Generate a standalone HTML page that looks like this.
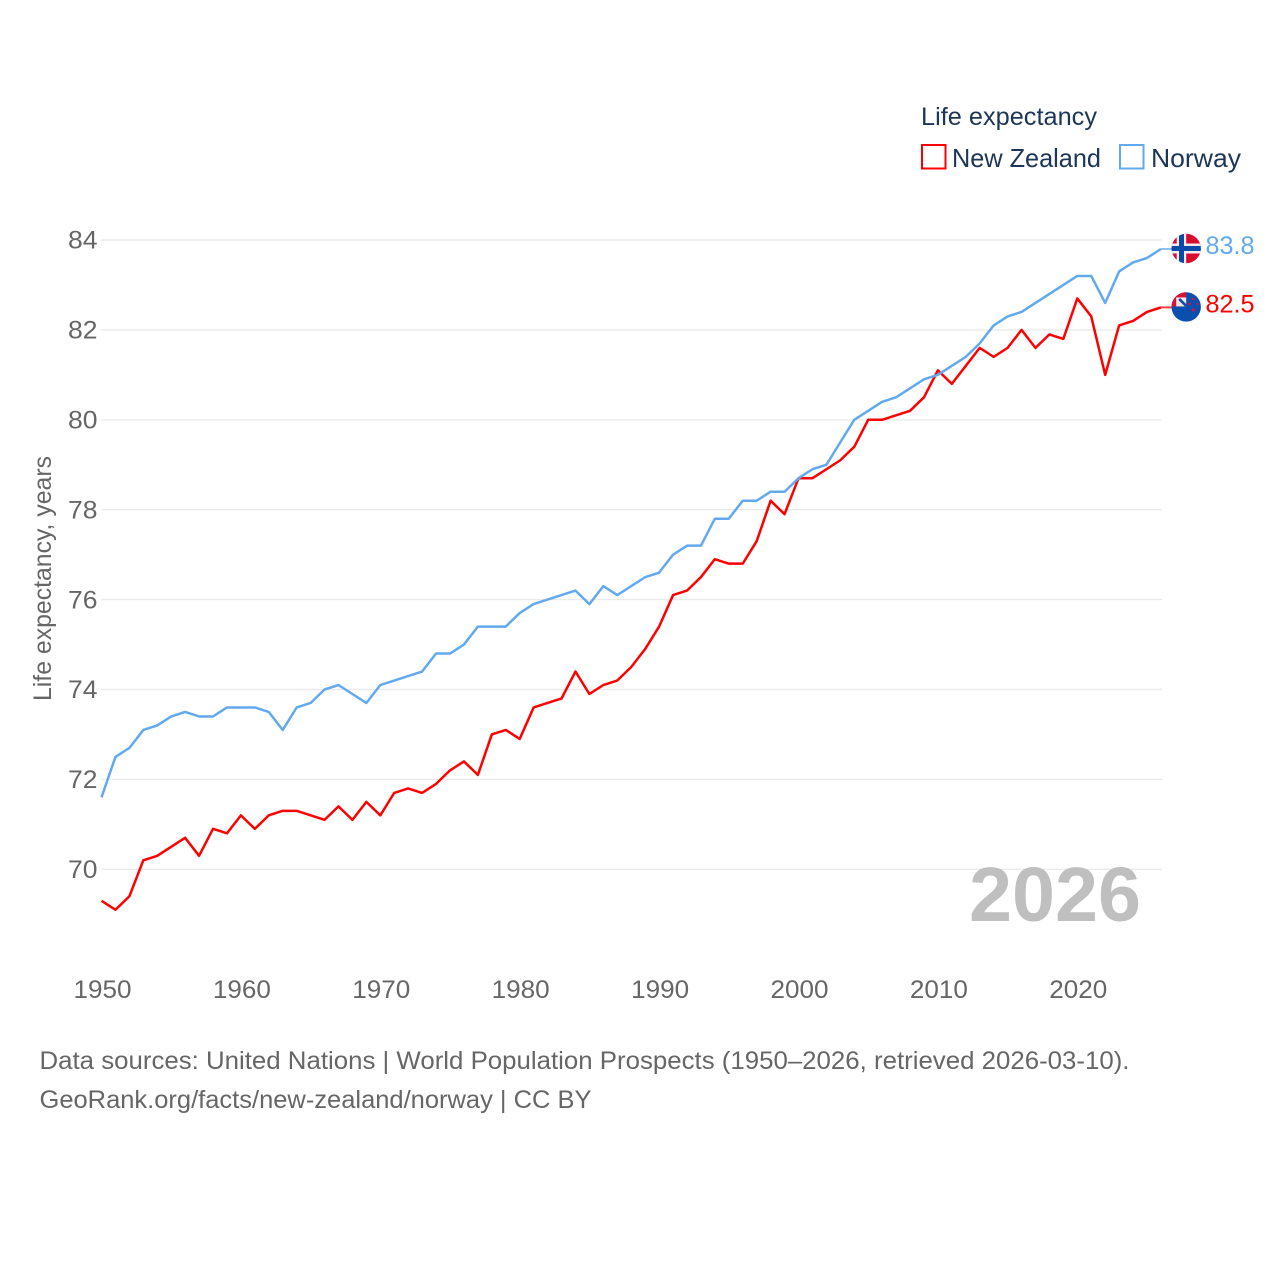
<!DOCTYPE html>
<html lang="en">
<head>
<meta charset="utf-8">
<title>Life expectancy: New Zealand and Norway</title>
<style>
html,body{margin:0;padding:0;background:#fff;width:1280px;height:1280px;overflow:hidden}
svg{display:block}
text{font-family:"Liberation Sans",sans-serif}
</style>
</head>
<body>
<svg id="chart" width="1280" height="1280" viewBox="0 0 1280 1280" xmlns="http://www.w3.org/2000/svg">
  <defs>
    <clipPath id="flag-clip"><circle cx="0" cy="0" r="14.7"></circle></clipPath>
  </defs>
  <rect width="1280" height="1280" fill="#fff"></rect>

  <g>
    <text x="921" y="125" font-size="25" fill="#1d3557" textLength="176" lengthAdjust="spacingAndGlyphs">Life expectancy</text>
    <g>
      <rect x="922" y="145" width="23.5" height="23.5" fill="#fff" stroke="#ff0000" stroke-width="2"></rect>
      <text x="952" y="167" font-size="26" fill="#1d3557" textLength="149" lengthAdjust="spacingAndGlyphs">New Zealand</text>
    </g>
    <g>
      <rect x="1120" y="145" width="23.5" height="23.5" fill="#fff" stroke="#62a9ee" stroke-width="2"></rect>
      <text x="1151" y="167" font-size="26" fill="#1d3557" textLength="90" lengthAdjust="spacingAndGlyphs">Norway</text>
    </g>
  </g>

  <g id="grid"></g>
  <g id="y-ticks"></g>
  <g id="x-ticks"></g>

  <text transform="translate(51,701) rotate(-90)" font-size="25" fill="#666666" textLength="245" lengthAdjust="spacingAndGlyphs">Life expectancy, years</text>

  <text x="969" y="921" font-size="77" font-weight="700" fill="#bfbfbf" textLength="172" lengthAdjust="spacingAndGlyphs">2026</text>

  <g id="series"></g>

  <g id="flag-norway">
    <g clip-path="url(#flag-clip)">
      <rect x="-15" y="-15" width="30" height="30" fill="#d80c2f"></rect>
      <rect x="-9.5" y="-15" width="9.5" height="30" fill="#f3ecec"></rect>
      <rect x="-15" y="-5" width="30" height="10" fill="#f3ecec"></rect>
      <rect x="-7.2" y="-15" width="5" height="30" fill="#0b4aa8"></rect>
      <rect x="-15" y="-2.5" width="30" height="5" fill="#0b4aa8"></rect>
    </g>
  </g>
  <g id="flag-new-zealand">
    <g clip-path="url(#flag-clip)">
      <rect x="-15" y="-15" width="30" height="30" fill="#0b4fae"></rect>
      <rect x="-15" y="-15" width="15" height="14.5" fill="#d8123a"></rect>
      <rect x="-10" y="-9.5" width="10" height="9" fill="#f2e6ea"></rect>
      <path d="M-7 -8 L0 -1" stroke="#0b4fae" stroke-width="2.6" fill="none"></path>
      <circle cx="7" cy="-8" r="1.3" fill="#d8123a"></circle>
      <circle cx="3" cy="-3" r="1.4" fill="#d8123a"></circle>
      <circle cx="11" cy="-3" r="1.2" fill="#d8123a"></circle>
      <circle cx="7" cy="3" r="1.6" fill="#d8123a"></circle>
    </g>
  </g>

  <text id="value-norway" x="1205.5" font-size="25" fill="#62a9ee" textLength="49" lengthAdjust="spacingAndGlyphs"></text>
  <text id="value-new-zealand" x="1205.5" font-size="25" fill="#ff0000" textLength="49" lengthAdjust="spacingAndGlyphs"></text>

  <g>
    <text x="39.5" y="1069" font-size="25" fill="#666666" textLength="1090" lengthAdjust="spacingAndGlyphs">Data sources: United Nations | World Population Prospects (1950–2026, retrieved 2026-03-10).</text>
    <text x="39.5" y="1108" font-size="25" fill="#666666" textLength="552" lengthAdjust="spacingAndGlyphs">GeoRank.org/facts/new-zealand/norway | CC BY</text>
  </g>
</svg>

<script>
const years = [1950,1951,1952,1953,1954,1955,1956,1957,1958,1959,1960,1961,1962,1963,1964,1965,1966,1967,1968,1969,1970,1971,1972,1973,1974,1975,1976,1977,1978,1979,1980,1981,1982,1983,1984,1985,1986,1987,1988,1989,1990,1991,1992,1993,1994,1995,1996,1997,1998,1999,2000,2001,2002,2003,2004,2005,2006,2007,2008,2009,2010,2011,2012,2013,2014,2015,2016,2017,2018,2019,2020,2021,2022,2023,2024,2025,2026];
const newZealand = [69.3,69.1,69.4,70.2,70.3,70.5,70.7,70.3,70.9,70.8,71.2,70.9,71.2,71.3,71.3,71.2,71.1,71.4,71.1,71.5,71.2,71.7,71.8,71.7,71.9,72.2,72.4,72.1,73.0,73.1,72.9,73.6,73.7,73.8,74.4,73.9,74.1,74.2,74.5,74.9,75.4,76.1,76.2,76.5,76.9,76.8,76.8,77.3,78.2,77.9,78.7,78.7,78.9,79.1,79.4,80.0,80.0,80.1,80.2,80.5,81.1,80.8,81.2,81.6,81.4,81.6,82.0,81.6,81.9,81.8,82.7,82.3,81.0,82.1,82.2,82.4,82.5];
const norway = [71.6,72.5,72.7,73.1,73.2,73.4,73.5,73.4,73.4,73.6,73.6,73.6,73.5,73.1,73.6,73.7,74.0,74.1,73.9,73.7,74.1,74.2,74.3,74.4,74.8,74.8,75.0,75.4,75.4,75.4,75.7,75.9,76.0,76.1,76.2,75.9,76.3,76.1,76.3,76.5,76.6,77.0,77.2,77.2,77.8,77.8,78.2,78.2,78.4,78.4,78.7,78.9,79.0,79.5,80.0,80.2,80.4,80.5,80.7,80.9,81.0,81.2,81.4,81.7,82.1,82.3,82.4,82.6,82.8,83.0,83.2,83.2,82.6,83.3,83.5,83.6,83.8];
const yTickValues = [70,72,74,76,78,80,82,84];
const xTickValues = [1950,1960,1970,1980,1990,2000,2010,2020];

const SVGNS = 'http://www.w3.org/2000/svg';
function xScale(year){ return 101.5 + (year - 1950) * 13.94; }
function yScale(value){ return 869.3 - (value - 70) * 44.95; }
function make(tag, attrs, parent){
  const el = document.createElementNS(SVGNS, tag);
  for (const k in attrs) el.setAttribute(k, attrs[k]);
  parent.appendChild(el);
  return el;
}

const gridGroup = document.getElementById('grid');
const yTickGroup = document.getElementById('y-ticks');
const xTickGroup = document.getElementById('x-ticks');
const seriesGroup = document.getElementById('series');

yTickValues.forEach(function(v){
  const line = make('line', {x1:101, x2:1162, y1:yScale(v), y2:yScale(v), stroke:'#ebebeb', 'stroke-width':1.4}, gridGroup);
  
  
  const t = make('text', {x:68, y:yScale(v) + 8.7, 'font-size':25, fill:'#666666', textLength:29.5, lengthAdjust:'spacingAndGlyphs'}, yTickGroup);
  t.textContent = String(v);
  
  
});

xTickValues.forEach(function(y){
  const t = make('text', {x:xScale(y) + 1, y:998, 'font-size':25, fill:'#666666', 'text-anchor':'middle', textLength:58, lengthAdjust:'spacingAndGlyphs'}, xTickGroup);
  t.textContent = String(y);
  
  
});

function pathFor(values){
  return values.map(function(v, i){
    return (i ? 'L' : 'M') + xScale(years[i]).toFixed(2) + ' ' + yScale(v).toFixed(2);
  }).join(' ');
}
function drawSeries(values, color, name){
  const p = make('path', {d:pathFor(values), fill:'none', stroke:color, 'stroke-width':2.5, 'stroke-linejoin':'round'}, seriesGroup);
  
  
  const last = values[values.length - 1];
  const lastX = xScale(years[years.length - 1]);
  const c = make('line', {x1:lastX, x2:1186, y1:yScale(last), y2:yScale(last), stroke:color, 'stroke-width':2, 'stroke-opacity':0.75}, seriesGroup);
  
  
}
drawSeries(newZealand, '#ff0000', 'new-zealand');
drawSeries(norway, '#62a9ee', 'norway');

function placeEnd(values, flagId, valueId){
  const last = values[values.length - 1];
  const yy = yScale(last);
  document.getElementById(flagId).setAttribute('transform', 'translate(1186.2,' + (yy - 0.5).toFixed(2) + ')');
  const label = document.getElementById(valueId);
  label.setAttribute('y', yy + 5.2);
  label.textContent = last.toFixed(1);
}
placeEnd(norway, 'flag-norway', 'value-norway');
placeEnd(newZealand, 'flag-new-zealand', 'value-new-zealand');
</script>
</body>
</html>
